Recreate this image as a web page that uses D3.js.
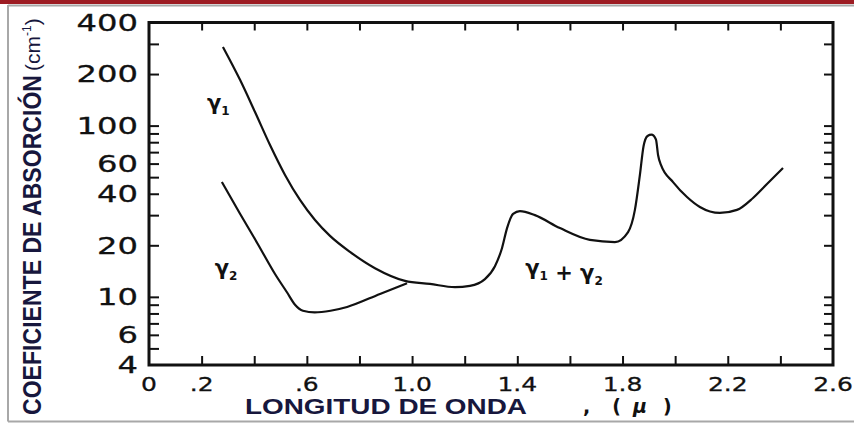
<!DOCTYPE html>
<html>
<head>
<meta charset="utf-8">
<script src="https://cdn.jsdelivr.net/npm/d3@7"></script>
<style>
  body { margin: 0; background: #fff; }
  svg { display: block; }
</style>
</head>
<body>
<svg id="chart" width="854" height="424"></svg>
<script>
// Absorption coefficient (cm^-1) versus wavelength (micron)
// gamma-1 branch, short wavelengths
const gamma1X = [0.281, 0.346, 0.403, 0.460, 0.517, 0.574, 0.631, 0.688, 0.764, 0.859, 0.973];
const gamma1K = [288, 185, 120, 77, 51.5, 36.8, 28.1, 22.7, 18.3, 14.7, 12.4];

// gamma-2 branch, short wavelengths
const gamma2X = [0.277, 0.346, 0.414, 0.479, 0.525, 0.555, 0.585, 0.630, 0.690, 0.753, 0.878, 0.981];
const gamma2K = [46.8, 30.6, 20.3, 13.6, 10.6, 9.00, 8.30, 8.12, 8.30, 8.73, 10.4, 12.0];

// combined gamma-1 + gamma-2 curve
const sumX = [0.973, 1.068, 1.163, 1.220, 1.277, 1.315, 1.342, 1.361, 1.384, 1.410, 1.467, 1.562, 1.676, 1.771,
              1.821, 1.847, 1.866, 1.880, 1.895, 1.910, 1.927, 1.935, 1.946, 1.992, 2.045, 2.094, 2.170, 2.235, 2.296, 2.349, 2.410];
const sumK = [12.4, 11.9, 11.4, 11.6, 12.7, 15.1, 19.3, 25.2, 30.5, 31.7, 30.0, 25.2, 21.5, 20.9,
              23.9, 32.2, 51.5, 76.0, 87.0, 88.5, 83.0, 67.4, 58.9, 46.8, 38.3, 33.5, 30.9, 32.2, 37.8, 45.6, 56.6];

// axis ticks and labels
const xTicks = [0.2, 0.4, 0.6, 0.8, 1.0, 1.2, 1.4, 1.6, 1.8, 2.0, 2.2, 2.4];
const xLabels = [0, 0.2, 0.6, 1.0, 1.4, 1.8, 2.2, 2.6];
const xLabelText = ["0", ".2", ".6", "1.0", "1.4", "1.8", "2.2", "2.6"];
const yTicks = [300, 200, 100, 90, 80, 70, 60, 50, 40, 30, 20, 10, 9, 8, 7, 6, 5];
const yLabels = [400, 200, 100, 60, 40, 20, 10, 6, 4];

// curve annotations: position in data units, name and subscript pieces
const curveNames = [
  { x: 0.22, k: 123, parts: [["γ", "1"]] },
  { x: 0.25, k: 13.4, parts: [["γ", "2"]] },
  { x: 1.43, k: 13.4, parts: [["γ", "1"], [" + γ", "2"]] }
];

const W = 854, H = 424;
const svg = d3.select("#chart");

// page decoration: red band and grey border
svg.append("rect").attr("x", 0).attr("y", 0).attr("width", W).attr("height", 4)
  .attr("fill", "#9d1c23");
svg.append("path")
  .attr("d", `M8,5.5H${W}M8,5V421.5M8,421.5H${W}`)
  .attr("fill", "none").attr("stroke", "#a8a8a8").attr("stroke-width", 2);

const x = d3.scaleLinear().domain([0, 2.6]).range([149, 833]);
const y = d3.scaleLog().domain([4, 400]).range([365, 22.5]);

const ink = "#111";
const tickLen = 9;

// inward-pointing ticks on all four sides
function ticks(axis, transform) {
  const g = svg.append("g").attr("transform", transform).call(axis);
  g.select(".domain").remove();
  g.selectAll(".tick line").attr("stroke", ink).attr("stroke-width", 2);
  g.selectAll(".tick text").remove();
  return g;
}
ticks(d3.axisBottom(x).tickValues(xTicks).tickSize(-tickLen), `translate(0,${y(4)})`);
ticks(d3.axisTop(x).tickValues(xTicks).tickSize(-tickLen + 1), `translate(0,${y(400)})`);
ticks(d3.axisLeft(y).tickValues(yTicks).tickSize(-tickLen - 1), `translate(${x(0)},0)`);
ticks(d3.axisRight(y).tickValues(yTicks).tickSize(-tickLen), `translate(${x(2.6)},0)`);

// plot frame
svg.append("rect")
  .attr("x", x(0)).attr("y", y(400))
  .attr("width", x(2.6) - x(0)).attr("height", y(4) - y(400))
  .attr("fill", "none").attr("stroke", ink).attr("stroke-width", 3);

// tick labels (wide geometric digits)
const digitFont = "'DejaVu Sans', sans-serif";
svg.append("g").selectAll("g").data(yLabels).join("g")
  .attr("transform", d => `translate(${x(0) - 11},${y(d)}) scale(1.4,1)`)
  .append("text")
  .attr("text-anchor", "end").attr("dy", "0.36em")
  .attr("font-family", digitFont).attr("font-size", 23)
  .attr("fill", ink).attr("stroke", ink).attr("stroke-width", 0.3)
  .text(d => d3.format("d")(d));

svg.append("g").selectAll("g").data(xLabels).join("g")
  .attr("transform", d => `translate(${x(d)},${y(4) + 26}) scale(1.25,1)`)
  .append("text")
  .attr("text-anchor", "middle")
  .attr("font-family", digitFont).attr("font-size", 20)
  .attr("fill", ink).attr("stroke", ink).attr("stroke-width", 0.3)
  .text((d, i) => xLabelText[i]);

// curves
const line = d3.line()
  .x(d => x(d[0])).y(d => y(d[1]))
  .curve(d3.curveMonotoneX);

const upper = gamma1X.map((v, i) => [v, gamma1K[i]])
  .concat(sumX.slice(1).map((v, i) => [v, sumK[i + 1]]));
const lower = gamma2X.map((v, i) => [v, gamma2K[i]]);

svg.append("path").datum(upper).attr("d", line)
  .attr("fill", "none").attr("stroke", ink).attr("stroke-width", 2.2)
  .attr("stroke-linejoin", "round");
svg.append("path").datum(lower).attr("d", line)
  .attr("fill", "none").attr("stroke", ink).attr("stroke-width", 2.2)
  .attr("stroke-linejoin", "round");

// curve names
curveNames.forEach(c => {
  const t = svg.append("text")
    .attr("x", x(c.x)).attr("y", y(c.k))
    .attr("font-family", "'DejaVu Sans', sans-serif")
    .attr("font-weight", "bold").attr("font-size", 21).attr("fill", ink);
  c.parts.forEach(p => {
    t.append("tspan").text(p[0]).attr("xml:space", "preserve");
    t.append("tspan").attr("font-size", 12).attr("dy", 5).text(p[1]);
    t.append("tspan").attr("font-size", 21).attr("dy", -5).text("");
  });
});

// axis titles
const titleInk = "#17173d";
const yTitle = svg.append("g").attr("transform", `translate(41,415) rotate(-90)`);
yTitle.append("text")
  .attr("x", 0).attr("y", 0)
  .attr("font-family", "'Liberation Sans', Arial, sans-serif")
  .attr("font-weight", "bold").attr("font-size", 26)
  .attr("textLength", 340).attr("lengthAdjust", "spacingAndGlyphs")
  .attr("fill", titleInk)
  .text("COEFICIENTE DE ABSORCIÓN");
const unit = yTitle.append("text")
  .attr("x", 344).attr("y", -1)
  .attr("font-family", "'Liberation Sans Narrow', 'Liberation Sans', sans-serif")
  .attr("font-size", 21).attr("fill", titleInk);
unit.append("tspan").text("(cm");
unit.append("tspan").attr("font-size", 12).attr("dy", -9).text("-1");
unit.append("tspan").attr("dy", 9).text(")");

svg.append("text")
  .attr("x", 245).attr("y", 414)
  .attr("font-family", "'Liberation Sans', Arial, sans-serif")
  .attr("font-weight", "bold").attr("font-size", 22)
  .attr("textLength", 282).attr("lengthAdjust", "spacingAndGlyphs")
  .attr("fill", titleInk)
  .text("LONGITUD DE ONDA");
const unitX = svg.append("text")
  .attr("x", 583).attr("y", 413)
  .attr("font-family", "'DejaVu Sans', sans-serif")
  .attr("font-weight", "bold").attr("font-size", 19)
  .attr("fill", ink);
unitX.append("tspan").text(",");
unitX.append("tspan").attr("dx", 22).text("(");
unitX.append("tspan").attr("dx", 12).attr("font-style", "italic").text("μ");
unitX.append("tspan").attr("dx", 16).text(")");
</script>
</body>
</html>
